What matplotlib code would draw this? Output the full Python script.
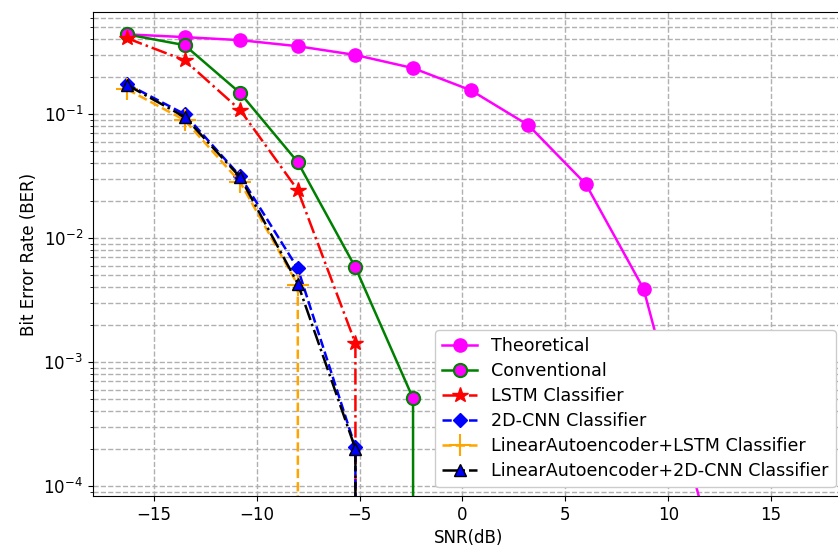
import matplotlib
matplotlib.use('Agg')
import matplotlib.pyplot as plt
import numpy as np

# SNR points (dB)
snr = [-16.3, -13.5, -10.8, -8.0, -5.2, -2.4, 0.4, 3.2, 6.0, 8.8, 11.6]

# BER curves (0 = no errors -> clipped on log axis)
ber_theory = [0.44, 0.418, 0.395, 0.353, 0.30, 0.235, 0.156, 0.0815, 0.0272, 0.0039, 7.0e-5]
ber_conv = [0.44, 0.36, 0.148, 0.041, 0.0058, 5.1e-4, 0]
ber_lstm = [0.41, 0.272, 0.108, 0.0244, 1.42e-3, 0]
ber_cnn = [0.175, 0.1, 0.0316, 0.0057, 2.05e-4, 0]
ber_ae_lstm = [0.159, 0.0895, 0.0283, 0.0042, 0]
ber_ae_cnn = [0.172, 0.095, 0.031, 0.0043, 2.0e-4, 0]

plt.rcParams['font.size'] = 12

fig = plt.figure(figsize=(8.38, 5.5), dpi=100)
ax = fig.add_axes([0.1107, 0.098, 0.897, 0.880])

lw = 1.8
ms = 9.5
ax.plot(snr[:len(ber_theory)], ber_theory, '-o', color='magenta', lw=lw, ms=ms, label='Theoretical')
ax.plot(snr[:len(ber_conv)], ber_conv, '-o', color='green', mfc='magenta', mec='green', mew=1.5,
        lw=lw, ms=ms, label='Conventional')
ax.plot(snr[:len(ber_lstm)], ber_lstm, '-.*', color='red', lw=lw, ms=ms + 2, label='LSTM Classifier')
ax.plot(snr[:len(ber_cnn)], ber_cnn, '--D', color='blue', lw=lw, ms=ms - 2, label='2D-CNN Classifier')
ax.plot(snr[:len(ber_ae_lstm)], ber_ae_lstm, '--+', color='orange', lw=lw, ms=ms + 6, mew=1.5,
        label='LinearAutoencoder+LSTM Classifier')
ax.plot(snr[:len(ber_ae_cnn)], ber_ae_cnn, '-.^', color='black', mfc='blue', mec='black', lw=lw, ms=ms - 1,
        label='LinearAutoencoder+2D-CNN Classifier')

ax.set_yscale('log')
ax.set_xlim(-17.96, 18.56)
ax.set_ylim(8.3e-5, 0.665)
ax.grid(True, which='both', linestyle='--', color='#b0b0b0', lw=1)
ax.set_xlabel('SNR(dB)')
ax.set_ylabel('Bit Error Rate (BER)')
ax.legend(loc='lower right', fontsize=12.6, labelspacing=0.4, framealpha=1)

fig.savefig('out.png', dpi=100)
